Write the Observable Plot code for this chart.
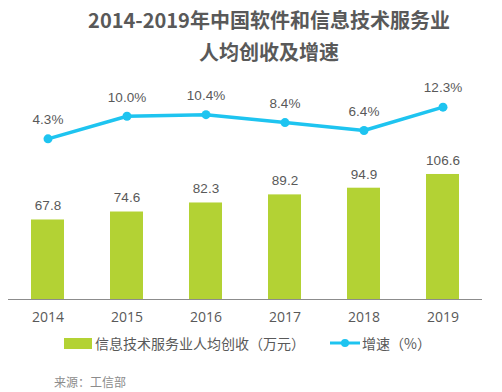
<!DOCTYPE html>
<html><head><meta charset="utf-8">
<script src="https://cdn.jsdelivr.net/npm/d3@7"></script>
<script src="https://cdn.jsdelivr.net/npm/@observablehq/plot@0.6"></script>
<style>
body{margin:0;background:#fff;width:502px;height:392px;overflow:hidden;font-family:"Noto Sans CJK SC","Noto Sans",sans-serif;}
#title{padding-left:36px;width:466px;text-align:center;color:#595959;font-weight:bold;font-size:20px;line-height:32px;padding-top:4px;height:71px;}
#chart{height:255px;}
#legend{position:relative;height:30px;font-size:14px;color:#595959;}
#source{position:absolute;left:54px;top:373px;font-size:12px;color:#8c8c8c;}
</style></head><body>
<div id="title">2014-2019年中国软件和信息技术服务业<br>人均创收及增速</div>
<div id="chart"></div>
<div id="legend">
  <span style="position:absolute;left:64px;top:8px;width:28px;height:11px;background:#b3d234"></span>
  <span style="position:absolute;left:95px;top:3px;">信息技术服务业人均创收（万元）</span>
  <svg style="position:absolute;left:330px;top:7px" width="32" height="12"><line x1="0" y1="6" x2="30" y2="6" stroke="#1ec4f0" stroke-width="3"/><circle cx="15" cy="6" r="4" fill="#1ec4f0"/></svg>
  <span style="position:absolute;left:362px;top:3px;">增速（%）</span>
</div>
<div id="source">来源：工信部</div>
<script>
const years = ["2014","2015","2016","2017","2018","2019"];
const revenue = [67.8, 74.6, 82.3, 89.2, 94.9, 106.6];
const growth = [4.3, 10.0, 10.4, 8.4, 6.4, 12.3];

// secondary axis for growth (%), mapped into the primary y units
const growthScale = d3.scaleLinear().domain([0, 20]).range([122.5, 190]);
const data = years.map((y, i) => ({year: y, revenue: revenue[i], growth: growth[i], gy: growthScale(growth[i])}));

const numFont = "'Liberation Sans',Arial,sans-serif";
const chart = Plot.plot({
  width: 502,
  height: 255,
  marginLeft: 8,
  marginRight: 20,
  marginTop: 0,
  marginBottom: 31,
  x: {domain: years, paddingInner: 0.58, paddingOuter: 0.29, label: null},
  y: {domain: [0, 191], axis: null},
  style: {fontFamily: "'Open Sans','Noto Sans',sans-serif", fontSize: "14px", color: "#595959", background: "transparent"},
  marks: [
    Plot.barY(data, {x: "year", y: "revenue", fill: "#b3d234"}),
    Plot.ruleY([0], {stroke: "#8c8c8c", strokeWidth: 1.2}),
    Plot.axisX({tickSize: 0, tickPadding: 13, fontSize: 14, fill: "#595959", label: null}),
    Plot.text(data, {x: "year", y: "revenue", text: d => d.revenue.toFixed(1), dy: -14, fontSize: 13.5, fill: "#595959", fontFamily: numFont}),
    Plot.line(data, {x: "year", y: "gy", stroke: "#1ec4f0", strokeWidth: 3.5}),
    Plot.dot(data, {x: "year", y: "gy", r: 4.5, fill: "#1ec4f0"}),
    Plot.text(data, {x: "year", y: "gy", text: d => d.growth.toFixed(1) + "%", dy: -19, fontSize: 13.5, fill: "#595959", fontFamily: numFont})
  ]
});
document.getElementById("chart").append(chart);
</script>
</body></html>
